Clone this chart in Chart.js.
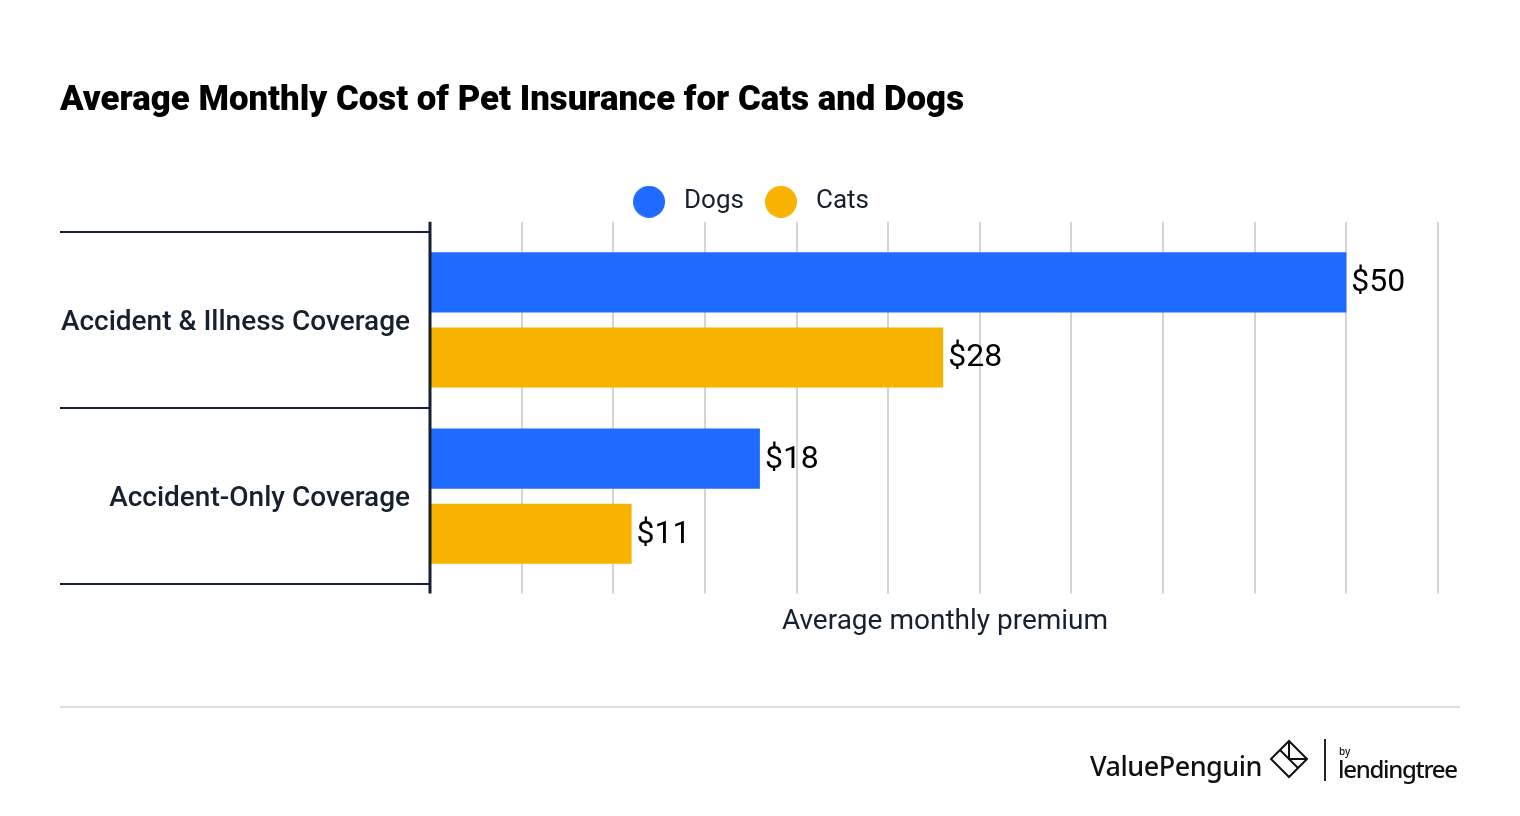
<!DOCTYPE html>
<html>
<head>
<meta charset="utf-8">
<script src="https://cdn.jsdelivr.net/npm/chart.js@4.4.0/dist/chart.umd.min.js"></script>
<style>
  body { margin: 0; background: #fff; }
  #wrap { position: relative; width: 1520px; height: 816px; }
  #wrap canvas { position: absolute; left: 0; top: 0; }
  .rule { position: absolute; left: 60px; top: 706px; width: 1400px; height: 2px; background: #dedede; }
  .vp { position: absolute; left: 1090px; top: 747px; font: 500 27px "Noto Sans", sans-serif; letter-spacing: -0.5px; color: #111; }
  .vp-icon { position: absolute; left: 1269px; top: 739px; }
  .sep { position: absolute; left: 1324px; top: 739px; width: 2px; height: 42px; background: #222; }
  .by { position: absolute; left: 1339px; top: 744px; font: 500 10px "Noto Sans", sans-serif; color: #111; }
  .lt { position: absolute; left: 1338px; top: 752px; font: 500 24px "Noto Sans", sans-serif; letter-spacing: -1.3px; color: #111; }
</style>
</head>
<body>
<div id="wrap">
  <canvas id="chart" width="1520" height="816"></canvas>
  <div class="rule"></div>
  <div class="vp">ValuePenguin</div>
  <svg class="vp-icon" width="40" height="40" viewBox="0 0 40 40">
    <g fill="none" stroke="#111" stroke-width="2">
      <path d="M20 2 L38 20 L20 38 L2 20 Z"/>
      <path d="M20 2 L20 20 L38 20"/>
      <path d="M11 11 L29 29"/>
    </g>
  </svg>
  <div class="sep"></div>
  <div class="by">by</div>
  <div class="lt">lendingtree</div>
</div>

<script>
// Chart data
const categories = ["Accident & Illness Coverage", "Accident-Only Coverage"];
const dogs = [50, 18];
const cats = [28, 11];
const gridValues = [5, 10, 15, 20, 25, 30, 35, 40, 45, 50, 55];

const ink = "#16202e";
const dogBlue = "#1f6bff";
const catGold = "#f8b300";

// round legend dots, drawn once so the gap to the text can be set
function makeDot(color) {
    const c = document.createElement("canvas");
    c.width = 32;
    c.height = 32;
    const g = c.getContext("2d");
    g.fillStyle = color;
    g.beginPath();
    g.arc(16, 16, 16, 0, Math.PI * 2);
    g.fill();
    return c;
}
const legendDots = [makeDot(dogBlue), makeDot(catGold)];

// grid, axis line, category separators and value labels
const decorPlugin = {
    id: "decor",
    beforeInit(chart) {
        const legend = chart.legend;
        // a bit of room between legend and plot
        const fit = legend.fit;
        legend.fit = function () {
            fit.call(this);
            this.height += 9;
        };
        // legend sits a little left of centre
        const draw = legend.draw;
        legend.draw = function (area) {
            this.ctx.save();
            this.ctx.translate(-12, 2);
            draw.call(this, area);
            this.ctx.restore();
        };
    },
    beforeDatasetsDraw(chart) {
        const { ctx, chartArea: a, scales: { x, y } } = chart;
        ctx.save();

        ctx.strokeStyle = "#d4d4d4";
        ctx.lineWidth = 2;
        gridValues.forEach(v => {
            const px = Math.round(x.getPixelForValue(v));
            ctx.beginPath();
            ctx.moveTo(px, a.top - 10);
            ctx.lineTo(px, a.bottom + 9);
            ctx.stroke();
        });

        const band = (y.bottom - y.top) / categories.length;
        ctx.strokeStyle = ink;
        ctx.lineWidth = 2;
        for (let i = 0; i <= categories.length; i++) {
            const py = Math.round(y.top + band * i);
            ctx.beginPath();
            ctx.moveTo(60, py);
            ctx.lineTo(a.left, py);
            ctx.stroke();
        }
        ctx.restore();
    },
    afterDatasetsDraw(chart) {
        const { ctx, chartArea: a } = chart;
        ctx.save();

        ctx.strokeStyle = ink;
        ctx.lineWidth = 3;
        ctx.beginPath();
        ctx.moveTo(a.left, a.top - 10);
        ctx.lineTo(a.left, a.bottom + 9);
        ctx.stroke();

        ctx.font = "32px Roboto";
        ctx.fillStyle = "#000";
        ctx.textAlign = "left";
        ctx.textBaseline = "middle";
        chart.data.datasets.forEach((ds, di) => {
            chart.getDatasetMeta(di).data.forEach((bar, i) => {
                ctx.fillText("$" + ds.data[i], bar.x + 5, bar.y + 1);
            });
        });
        ctx.restore();
    }
};

const ctx = document.getElementById("chart").getContext("2d");

new Chart(ctx, {
    type: "bar",
    data: {
        labels: categories,
        datasets: [
            { label: "Dogs", data: dogs, backgroundColor: dogBlue, borderWidth: 0 },
            { label: "Cats", data: cats, backgroundColor: catGold, borderWidth: 0 }
        ]
    },
    options: {
        indexAxis: "y",
        responsive: false,
        animation: false,
        categoryPercentage: 150 / 176,
        barPercentage: 0.8,
        layout: { padding: { top: 60, left: 60, right: 60, bottom: 177 } },
        plugins: {
            title: {
                display: true,
                text: "Average Monthly Cost of Pet Insurance for Cats and Dogs",
                align: "start",
                color: "#000",
                font: { family: "Roboto", size: 34.8, weight: "900" },
                padding: { top: 20, bottom: 50 }
            },
            legend: {
                display: true,
                labels: {
                    usePointStyle: true,
                    pointStyleWidth: 44,
                    padding: 15,
                    color: ink,
                    font: { family: "Roboto", size: 26 },
                    generateLabels(chart) {
                        const items = Chart.defaults.plugins.legend.labels.generateLabels(chart);
                        items.forEach((item, i) => { item.pointStyle = legendDots[i]; });
                        return items;
                    }
                }
            },
            tooltip: { enabled: false }
        },
        scales: {
            x: {
                min: 0,
                max: 56.2,
                ticks: { display: false, stepSize: 5, includeBounds: false },
                grid: { display: false, drawTicks: false },
                border: { display: false },
                title: {
                    display: true,
                    text: "Average monthly premium",
                    color: ink,
                    font: { family: "Roboto", size: 28 },
                    padding: { top: 21, bottom: 0 }
                }
            },
            y: {
                ticks: {
                    color: ink,
                    font: { family: "Roboto", size: 28, weight: "500" },
                    padding: 20,
                    labelOffset: 3
                },
                grid: { display: false, drawTicks: false },
                border: { display: false },
                afterFit(scale) { scale.width = 370; }
            }
        }
    },
    plugins: [decorPlugin]
});
</script>
</body>
</html>
